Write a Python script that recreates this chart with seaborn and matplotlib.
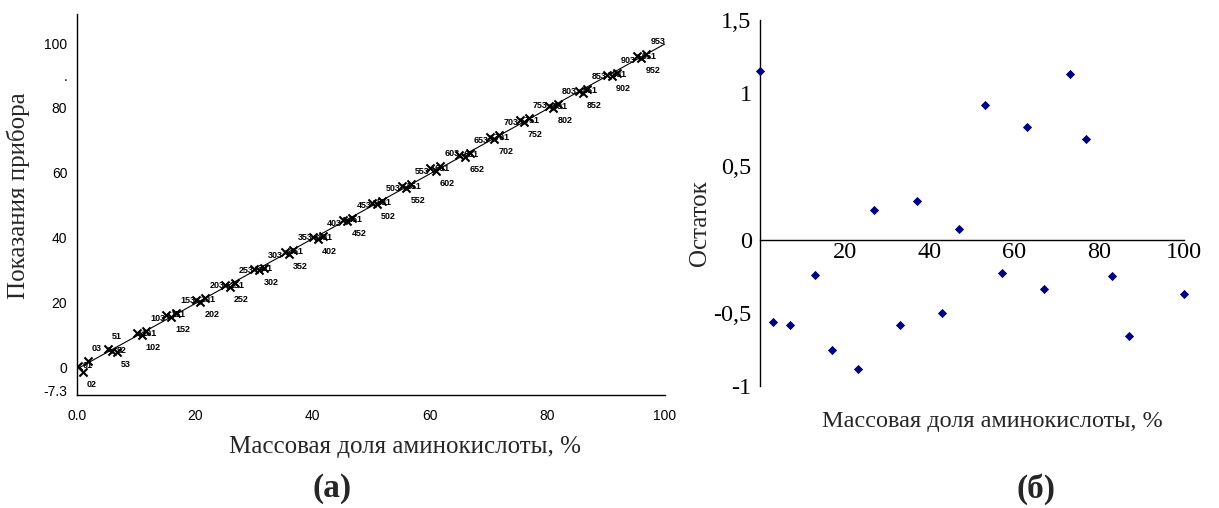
import matplotlib
matplotlib.use("Agg")
import matplotlib.pyplot as plt
import seaborn as sns
import pandas as pd

# ---------------- data: panel (a) ----------------
conc = [0.2, 1.0, 1.8, 5.2, 6.0, 6.8, 10.2, 11.0, 11.8, 15.2, 16.0, 16.8,
        20.3, 21.0, 21.8, 25.2, 26.0, 26.8, 30.1, 31.0, 31.8, 35.3, 36.0, 36.8,
        40.2, 41.0, 41.8, 45.3, 46.0, 46.8, 50.2, 51.0, 51.8, 55.3, 56.0, 56.8,
        60.1, 61.0, 61.8, 65.0, 66.0, 66.8, 70.3, 71.0, 71.8, 75.4, 76.0, 76.8,
        80.2, 81.0, 81.8, 85.3, 86.0, 86.8, 90.2, 91.0, 91.8, 95.3, 96.0, 96.8]
reading = [0.5, -1.5, 1.8, 5.5, 5.0, 4.6, 10.5, 9.8, 11.2, 16.2, 15.6, 16.8,
           20.8, 20.0, 21.3, 25.3, 24.6, 25.9, 30.4, 29.9, 30.7, 35.6, 34.9, 36.2,
           40.1, 39.7, 40.5, 45.5, 45.0, 46.0, 50.8, 50.2, 51.2, 55.8, 55.2, 56.4,
           61.4, 60.6, 62.0, 65.6, 65.0, 66.2, 71.0, 70.3, 71.6, 76.2, 75.6, 76.9,
           80.6, 80.0, 81.2, 85.3, 84.6, 86.0, 90.3, 89.8, 90.8, 95.9, 95.3, 96.5]
point_ids = ["01", "02", "03", "51", "52", "53", "101", "102", "103",
             "151", "152", "153", "201", "202", "203", "251", "252", "253",
             "301", "302", "303", "351", "352", "353", "401", "402", "403",
             "451", "452", "453", "501", "502", "503", "551", "552", "553",
             "601", "602", "603", "651", "652", "653", "701", "702", "703",
             "751", "752", "753", "801", "802", "803", "851", "852", "853",
             "901", "902", "903", "951", "952", "953"]

left_yticks = [-7.3, 0, 10, 20, 30, 40, 50, 60, 70, 80, 90, 100]
left_yticklabels = ["-7.3", "0", "", "20", "", "40", "", "60", "", "80", ".", "100"]
left_xticks = [0, 20, 40, 60, 80, 100]
left_xticklabels = ["0.0", "20", "40", "60", "80", "100"]

# ---------------- data: panel (б) ----------------
res_x = [0, 3, 7, 13, 17, 23, 27, 33, 37, 43, 47, 53, 57, 63, 67, 73, 77, 83, 87, 100]
res_y = [1.15, -0.56, -0.585, -0.245, -0.755, -0.885, 0.20, -0.58, 0.265, -0.50,
         0.07, 0.92, -0.225, 0.77, -0.34, 1.13, 0.69, -0.25, -0.66, -0.37]
right_yticks = [-1, -0.5, 0, 0.5, 1, 1.5]
right_yticklabels = ["-1", "-0,5", "0", "0,5", "1", "1,5"]
right_xticks = [20, 40, 60, 80, 100]
right_xticklabels = ["20", "40", "60", "80", "100"]

xlabel_text = "Массовая доля аминокислоты, %"
left_ylabel = "Показания прибора"
right_ylabel = "Остаток"

sns.set_theme(style="white")
plt.rcParams["font.family"] = ["Liberation Serif", "DejaVu Serif"]
SERIF = ["Liberation Serif", "DejaVu Serif"]
SANS = ["Liberation Sans", "DejaVu Sans"]

fig = plt.figure(figsize=(12.19, 5.08), dpi=100)

# ---------- left panel ----------
axL = fig.add_axes([77 / 1219, 1 - 395 / 508, 588 / 1219, 381 / 508])
dfL = pd.DataFrame({"x": conc, "y": reading, "id": point_ids})
axL.set_xlim(0, 100)
axL.set_ylim(-8.6, 109)
sns.regplot(data=dfL, x="x", y="y", ax=axL, scatter=False, ci=None, truncate=False,
            line_kws=dict(color="black", lw=0.8))
sns.scatterplot(data=dfL, x="x", y="y", ax=axL, marker="x", color="black",
                s=34, linewidth=1.5, zorder=3)
# stack the three labels of each cluster vertically (ordered by reading)
offs = [-9, 0, 9]
for g in range(0, len(conc), 3):
    order = sorted(range(3), key=lambda k: reading[g + k])
    for rank, k in enumerate(order):
        i = g + k
        axL.annotate(point_ids[i], (conc[i], reading[i]), xytext=(3, offs[rank]),
                     textcoords="offset points", fontsize=6.5, fontweight="bold",
                     family=SANS, ha="left", va="center", color="black")
axL.set_xlim(0, 100)
axL.set_ylim(-8.6, 109)
for s in ["top", "right"]:
    axL.spines[s].set_visible(False)
for s in ["left", "bottom"]:
    axL.spines[s].set_color("black")
    axL.spines[s].set_linewidth(1.0)
axL.set_yticks(left_yticks)
axL.set_yticklabels(left_yticklabels, family=SANS, fontsize=10)
axL.set_xticks(left_xticks)
axL.set_xticklabels(left_xticklabels, family=SANS, fontsize=10)
axL.tick_params(axis="y", direction="inout", length=6, width=1, colors="black", pad=4)
axL.tick_params(axis="x", direction="out", length=4, width=1, colors="black", pad=6)
axL.set_xlabel("")
axL.set_ylabel("")
fig.text(405 / 1219, 1 - 447 / 508, xlabel_text, ha="center", va="center",
         fontsize=18, family=SERIF)
fig.text(18 / 1219, 1 - 196 / 508, left_ylabel, ha="center", va="center",
         rotation=90, fontsize=18, family=SERIF)
fig.text(332 / 1219, 1 - 489 / 508, "(а)", ha="center", va="center",
         fontsize=24, fontweight="bold", family=SERIF)

# ---------- right panel ----------
axR = fig.add_axes([760 / 1219, 1 - 386 / 508, 424 / 1219, 366 / 508])
dfR = pd.DataFrame({"x": res_x, "y": res_y})
sns.scatterplot(data=dfR, x="x", y="y", ax=axR, marker="D", color="#000080",
                s=22, linewidth=0, zorder=3, clip_on=False)
axR.set_xlim(0, 100)
axR.set_ylim(-1, 1.5)
for s in ["top", "right"]:
    axR.spines[s].set_visible(False)
axR.spines["bottom"].set_position(("data", 0))
for s in ["left", "bottom"]:
    axR.spines[s].set_color("black")
    axR.spines[s].set_linewidth(1.0)
axR.set_yticks(right_yticks)
axR.set_yticklabels(right_yticklabels, family=SERIF, fontsize=17.5)
axR.set_xticks(right_xticks)
axR.set_xticklabels(right_xticklabels, family=SERIF, fontsize=17.5)
axR.tick_params(axis="x", direction="in", length=4, width=1, colors="black", pad=2)
axR.tick_params(axis="y", direction="in", length=3, width=1, colors="black", pad=6)
axR.set_xlabel("")
axR.set_ylabel("")
fig.text(992 / 1219, 1 - 422 / 508, xlabel_text, ha="center", va="center",
         fontsize=17.5, family=SERIF)
fig.text(700 / 1219, 1 - 223 / 508, right_ylabel, ha="center", va="center",
         rotation=90, fontsize=18, family=SERIF)
fig.text(1036 / 1219, 1 - 489 / 508, "(б)", ha="center", va="center",
         fontsize=24, fontweight="bold", family=SERIF)

fig.savefig("out.png", dpi=100, facecolor="white")
